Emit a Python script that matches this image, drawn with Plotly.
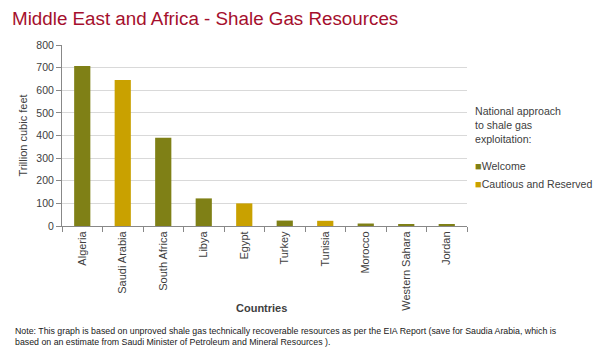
import plotly.graph_objects as go

countries = ["Algeria", "Saudi Arabia", "South Africa", "Libya", "Egypt",
             "Turkey", "Tunisia", "Morocco", "Western Sahara", "Jordan"]
values = [707, 645, 390, 122, 100, 24, 23, 11, 7, 7]
approach = ["Welcome", "Cautious and Reserved", "Welcome", "Welcome",
            "Cautious and Reserved", "Welcome", "Cautious and Reserved",
            "Welcome", "Welcome", "Welcome"]
groups = ["Welcome", "Cautious and Reserved"]
colors = {"Welcome": "#7f8016", "Cautious and Reserved": "#c9a100"}

FONT = "Liberation Sans, Arial, sans-serif"
TXT = "#404040"

fig = go.Figure()
for g in groups:
    xs = [c for c, a in zip(countries, approach) if a == g]
    ys = [v for v, a in zip(values, approach) if a == g]
    fig.add_trace(go.Bar(x=xs, y=ys, name=g, marker_color=colors[g],
                         marker_line_width=0, width=0.4, showlegend=False))

# legend drawn as text next to the plot
legend_ann = [
    dict(text="National approach<br>to shale gas<br>exploitation:",
         xref="paper", yref="paper", x=1.0148, y=0.68, xanchor="left", yanchor="top",
         align="left", showarrow=False, font=dict(size=10.6, color=TXT)),
]
for i, g in enumerate(groups):
    legend_ann.append(dict(
        text=f"<span style='color:{colors[g]};font-size:11px'>■</span>{g}",
        xref="paper", yref="paper", x=1.0148, y=0.33 - i * 0.1,
        xanchor="left", yanchor="middle", align="left", showarrow=False,
        font=dict(size=10.6, color=TXT)))

fig.update_layout(
    width=603, height=351,
    margin=dict(l=62, r=136, t=45, b=125),
    paper_bgcolor="white", plot_bgcolor="white",
    barmode="overlay",
    font=dict(family=FONT, color=TXT, size=10),
    showlegend=False,
    annotations=legend_ann + [
        dict(text="<b>Countries</b>", xref="paper", yref="paper", x=0.493, y=-0.453,
             xanchor="center", yanchor="middle", showarrow=False,
             font=dict(size=11, color=TXT)),
        dict(text="Note: This graph is based on unproved shale gas technically recoverable resources as per the EIA Report (save for Saudia Arabia, which is<br>based on an estimate from Saudi Minister of Petroleum and Mineral Resources ).",
             xref="paper", yref="paper", x=-0.121, y=-0.54, xanchor="left", yanchor="top",
             align="left", showarrow=False, font=dict(size=8.8, color="#202020")),
    ],
    title=dict(text="Middle East and Africa - Shale Gas Resources",
               x=12/603, xanchor="left", y=1 - 18/351, yanchor="middle",
               font=dict(size=18.8, color="#a50f2d", family=FONT)),
)

fig.update_xaxes(
    type="category", categoryorder="array", categoryarray=countries,
    tickangle=-90, tickson="boundaries", ticks="outside", ticklen=5,
    tickcolor="#888888", showline=True, linecolor="#888888", linewidth=1,
    tickfont=dict(size=11, color=TXT),
)
fig.update_yaxes(
    range=[0, 800], dtick=100, showgrid=True, gridcolor="#d9d9d9",
    showline=True, linecolor="#888888", ticks="outside", ticklen=5,
    tickcolor="#888888", tickfont=dict(size=10.5, color=TXT),
    title=dict(text="Trillion cubic feet", font=dict(size=11, color=TXT), standoff=6),
    zeroline=False,
)

fig.write_html("out.html")
